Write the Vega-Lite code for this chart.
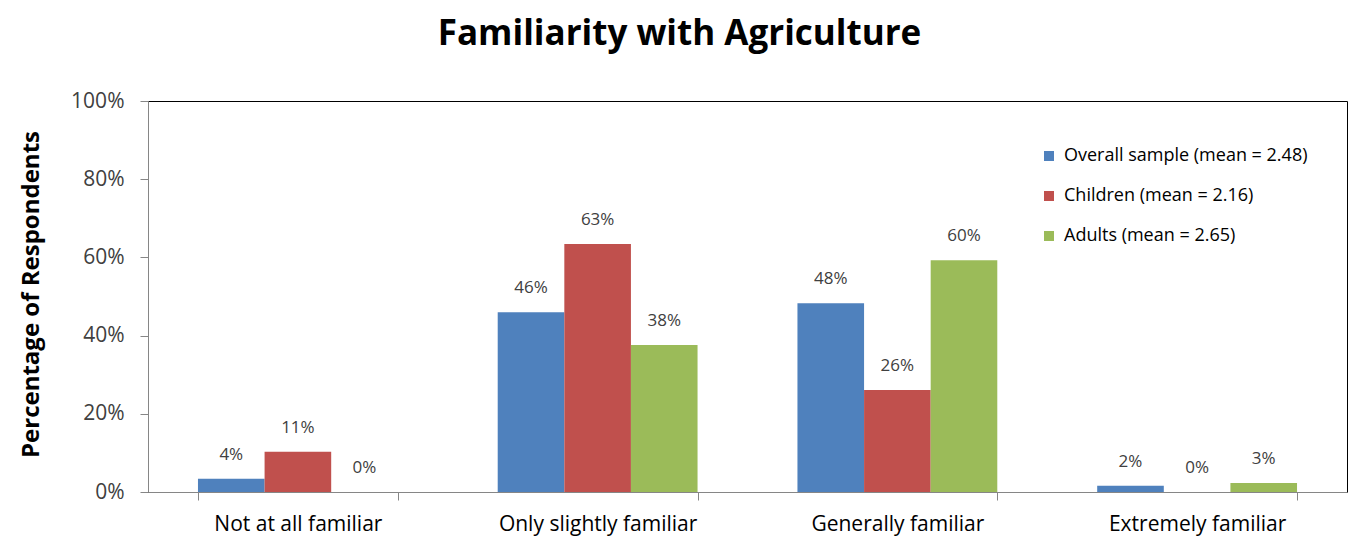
{
  "$schema": "https://vega.github.io/schema/vega-lite/v6.json",
  "autosize": {"type": "none"},
  "width": 1199,
  "height": 391,
  "padding": {"left": 148, "top": 101, "right": 5, "bottom": 48},
  "background": "white",
  "config": {
    "font": "Open Sans",
    "view": {"stroke": "#000000", "strokeWidth": 1}
  },
  "title": {
    "text": "Familiarity with Agriculture",
    "fontSize": 35,
    "fontWeight": "bold",
    "font": "Open Sans",
    "color": "#000000",
    "anchor": "middle",
    "frame": "group",
    "dx": -68,
    "offset": 38
  },
  "data": {
    "values": [
      {"category": "Not at all familiar", "series": "Overall sample (mean = 2.48)", "value": 3.4, "label": "4%"},
      {"category": "Not at all familiar", "series": "Children (mean = 2.16)", "value": 10.3, "label": "11%"},
      {"category": "Not at all familiar", "series": "Adults (mean = 2.65)", "value": 0, "label": "0%"},
      {"category": "Only slightly familiar", "series": "Overall sample (mean = 2.48)", "value": 46.0, "label": "46%"},
      {"category": "Only slightly familiar", "series": "Children (mean = 2.16)", "value": 63.4, "label": "63%"},
      {"category": "Only slightly familiar", "series": "Adults (mean = 2.65)", "value": 37.6, "label": "38%"},
      {"category": "Generally familiar", "series": "Overall sample (mean = 2.48)", "value": 48.3, "label": "48%"},
      {"category": "Generally familiar", "series": "Children (mean = 2.16)", "value": 26.1, "label": "26%"},
      {"category": "Generally familiar", "series": "Adults (mean = 2.65)", "value": 59.3, "label": "60%"},
      {"category": "Extremely familiar", "series": "Overall sample (mean = 2.48)", "value": 1.6, "label": "2%"},
      {"category": "Extremely familiar", "series": "Children (mean = 2.16)", "value": 0, "label": "0%"},
      {"category": "Extremely familiar", "series": "Adults (mean = 2.65)", "value": 2.3, "label": "3%"}
    ]
  },
  "encoding": {
    "x": {
      "field": "category",
      "type": "nominal",
      "sort": ["Not at all familiar", "Only slightly familiar", "Generally familiar", "Extremely familiar"],
      "scale": {"paddingInner": 0.3333, "paddingOuter": 0.1667},
      "axis": {
        "title": null,
        "labelAngle": 0,
        "labelFontSize": 21,
        "labelColor": "#000000",
        "labelPadding": 13,
        "labelLimit": 400,
        "tickBand": "extent",
        "tickSize": 8,
        "tickColor": "#868686",
        "domainColor": "#868686",
        "grid": false
      }
    },
    "xOffset": {
      "field": "series",
      "type": "nominal",
      "sort": ["Overall sample (mean = 2.48)", "Children (mean = 2.16)", "Adults (mean = 2.65)"],
      "scale": {"paddingInner": 0, "paddingOuter": 0}
    },
    "y": {
      "field": "value",
      "type": "quantitative",
      "scale": {"domain": [0, 100], "nice": false},
      "axis": {
        "title": "Percentage of Respondents",
        "titleFontSize": 24,
        "titleFontWeight": "bold",
        "titleColor": "#000000",
        "titleX": -117,
        "titleY": 193,
        "titleAngle": -90,
        "titleAlign": "center",
        "titleBaseline": "middle",
        "values": [0, 20, 40, 60, 80, 100],
        "labelExpr": "datum.value + '%'",
        "labelFontSize": 21,
        "labelColor": "#404040",
        "labelPadding": 16,
        "tickSize": 8,
        "tickColor": "#868686",
        "domainColor": "#868686",
        "grid": false
      }
    }
  },
  "layer": [
    {
      "mark": {"type": "bar"},
      "encoding": {
        "color": {
          "field": "series",
          "type": "nominal",
          "scale": {
            "domain": ["Overall sample (mean = 2.48)", "Children (mean = 2.16)", "Adults (mean = 2.65)"],
            "range": ["#4F81BD", "#C0504D", "#9BBB59"]
          },
          "legend": {
            "title": null,
            "orient": "none",
            "legendX": 892,
            "legendY": 46,
            "padding": 0,
            "symbolType": "square",
            "symbolSize": 100,
            "symbolStrokeWidth": 0,
            "labelFontSize": 18,
            "labelColor": "#000000",
            "labelOffset": 6,
            "rowPadding": 22,
            "labelLimit": 400
          }
        }
      }
    },
    {
      "mark": {"type": "text", "baseline": "middle", "dy": -24, "fontSize": 17, "color": "#404040"},
      "encoding": {
        "text": {"field": "label", "type": "nominal"}
      }
    }
  ]
}
